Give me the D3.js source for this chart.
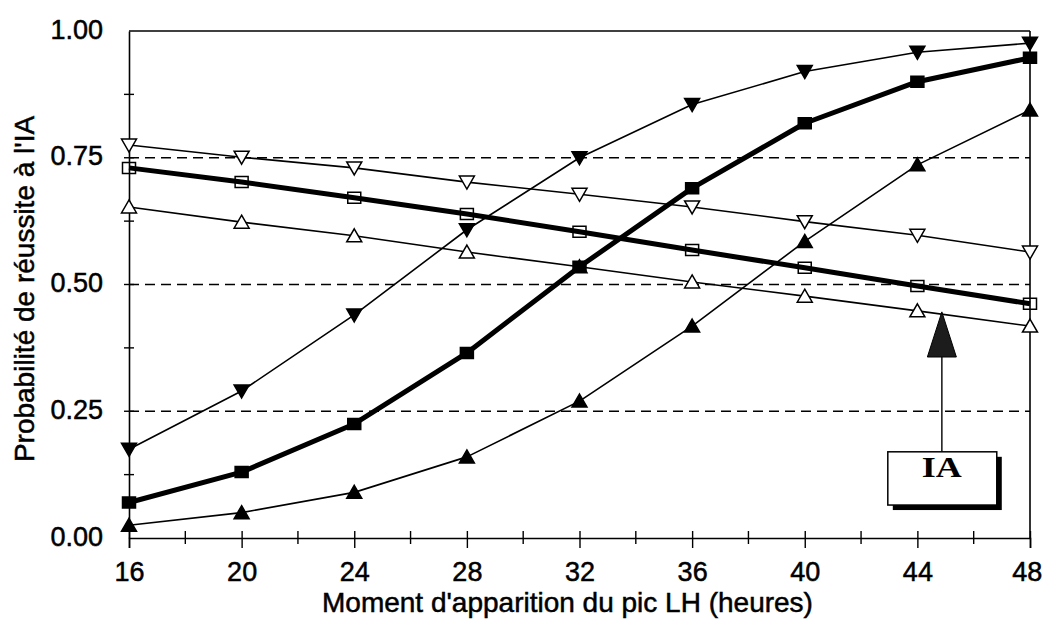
<!DOCTYPE html>
<html>
<head>
<meta charset="utf-8">
<script src="https://cdn.jsdelivr.net/npm/d3@7"></script>
<style>
  html, body { margin: 0; padding: 0; background: #fff; }
  svg { display: block; }
  text { font-family: "Liberation Sans", Arial, sans-serif; fill: #000; }
  .heavy { stroke: #000; stroke-width: 0.5px; }
</style>
</head>
<body>
<svg id="chart" width="1044" height="622"></svg>
<script>
// ---- data ----
const hours = [16, 20, 24, 28, 32, 36, 40, 44, 48];
const openDown   = [0.775, 0.751, 0.730, 0.702, 0.678, 0.653, 0.624, 0.597, 0.564];
const openSquare = [0.730, 0.702, 0.671, 0.639, 0.604, 0.568, 0.533, 0.497, 0.462];
const openUp     = [0.653, 0.623, 0.596, 0.564, 0.535, 0.505, 0.477, 0.448, 0.418];
const fillDown   = [0.175, 0.290, 0.440, 0.608, 0.750, 0.855, 0.920, 0.958, 0.976];
const fillSquare = [0.070, 0.130, 0.225, 0.365, 0.535, 0.690, 0.818, 0.900, 0.947];
const fillUp     = [0.025, 0.050, 0.090, 0.160, 0.270, 0.418, 0.585, 0.736, 0.844];
const yTickValues = [0, 0.25, 0.5, 0.75, 1];
const yMinorValues = [0.125, 0.375, 0.625, 0.875];
const xTickValues = [16, 20, 24, 28, 32, 36, 40, 44, 48];
const xMinorValues = [18, 22, 26, 30, 34, 38, 42, 46];
const gridValues = [0.25, 0.5, 0.75];
const xTitle = "Moment d'apparition du pic LH (heures)";
const yTitle = "Probabilité de réussite à l'IA";
const annotationLabel = "IA";

const series = [
  { values: openDown,   marker: "triDown", filled: false, thick: false },
  { values: openSquare, marker: "square",  filled: false, thick: true },
  { values: openUp,     marker: "triUp",   filled: false, thick: false },
  { values: fillDown,   marker: "triDown", filled: true,  thick: false },
  { values: fillSquare, marker: "square",  filled: true,  thick: true },
  { values: fillUp,     marker: "triUp",   filled: true,  thick: false }
];

// ---- layout ----
const svg = d3.select("#chart");
const x = d3.scaleLinear().domain([16, 48]).range([129, 1030]);
const y = d3.scaleLinear().domain([0, 1]).range([538, 31]);

// grid (dashed)
svg.append("g").selectAll("line").data(gridValues).join("line")
  .attr("x1", x(16)).attr("x2", x(48))
  .attr("y1", d => y(d)).attr("y2", d => y(d))
  .attr("stroke", "#000").attr("stroke-width", 1.6)
  .attr("stroke-dasharray", "10,6");

// frame: top and right
svg.append("line").attr("x1", x(16)).attr("x2", x(48)).attr("y1", y(1)).attr("y2", y(1))
  .attr("stroke", "#000").attr("stroke-width", 1.6);
svg.append("line").attr("x1", x(48)).attr("x2", x(48)).attr("y1", y(1)).attr("y2", y(0))
  .attr("stroke", "#000").attr("stroke-width", 1.6);

// y axis
const yAxis = svg.append("g").attr("transform", `translate(${x(16)},0)`)
  .call(d3.axisLeft(y).tickValues(yTickValues).tickFormat(d3.format(".2f")).tickSize(0).tickPadding(26));
yAxis.select(".domain").attr("stroke-width", 1.6);
yAxis.selectAll(".tick text").style("font-size", "27px").attr("dy", "0.26em").attr("class", "heavy");
svg.append("g").selectAll("line").data(yMinorValues.concat(yTickValues.slice(1, 4))).join("line")
  .attr("x1", x(16) - 5).attr("x2", x(16) + 5)
  .attr("y1", d => y(d)).attr("y2", d => y(d))
  .attr("stroke", "#000").attr("stroke-width", 1.4);

// x axis
const xAxis = svg.append("g").attr("transform", `translate(0,${y(0)})`)
  .call(d3.axisBottom(x).tickValues(xTickValues).tickFormat(d3.format("d")).tickSize(10).tickPadding(14));
xAxis.select(".domain").attr("stroke-width", 1.6);
xAxis.selectAll(".tick line").attr("y1", -7).attr("stroke-width", 1.4);
xAxis.selectAll(".tick text").style("font-size", "27px").attr("class", "heavy")
  .attr("dx", d => d === 48 ? "-0.12em" : 0);
svg.append("g").selectAll("line").data(xMinorValues).join("line")
  .attr("x1", d => x(d)).attr("x2", d => x(d))
  .attr("y1", y(0) - 7).attr("y2", y(0) + 6)
  .attr("stroke", "#000").attr("stroke-width", 1.4);

// titles
svg.append("text").attr("x", 322).attr("y", 612).attr("class", "heavy")
  .style("font-size", "28px").attr("text-anchor", "start").text(xTitle);
svg.append("text").attr("transform", "translate(34,289) rotate(-90)").attr("class", "heavy")
  .style("font-size", "28px").attr("text-anchor", "middle").text(yTitle);

// lines
const line = d3.line().x((d, i) => x(hours[i])).y(d => y(d));
svg.append("g").selectAll("path").data(series).join("path")
  .attr("d", s => line(s.values))
  .attr("fill", "none").attr("stroke", "#000")
  .attr("stroke-width", s => s.thick ? 5 : 1.6)
  .attr("stroke-linejoin", "round");

// markers
function markerPath(type) {
  if (type === "square") return "M-6.5,-5.5H6.5V5.5H-6.5Z";
  if (type === "triUp") return "M0,-7L7.5,6L-7.5,6Z";
  return "M0,7L7.5,-6L-7.5,-6Z";
}
series.forEach(s => {
  svg.append("g").selectAll("path").data(s.values).join("path")
    .attr("transform", (d, i) => `translate(${x(hours[i])},${y(d)})`)
    .attr("d", markerPath(s.marker))
    .attr("fill", s.filled ? "#000" : (s.marker === "square" ? "none" : "#fff"))
    .attr("stroke", "#000").attr("stroke-width", 1.5);
});

// IA annotation
const ax = x(44.87);
const boxL = x(42.95), boxR = x(46.82), boxT = y(0.17), boxB = y(0.065);
svg.append("line").attr("x1", ax).attr("x2", ax).attr("y1", y(0.36)).attr("y2", boxT)
  .attr("stroke", "#000").attr("stroke-width", 1.4);
svg.append("path")
  .attr("d", `M${ax},${y(0.446)}L${ax + 14.5},${y(0.357)}L${ax - 14.5},${y(0.357)}Z`)
  .attr("fill", "#1c1c1c").attr("stroke", "#000").attr("stroke-width", 1);
svg.append("rect").attr("x", boxL + 5).attr("y", boxT + 5)
  .attr("width", boxR - boxL).attr("height", boxB - boxT).attr("fill", "#000");
svg.append("rect").attr("x", boxL).attr("y", boxT)
  .attr("width", boxR - boxL).attr("height", boxB - boxT)
  .attr("fill", "#fff").attr("stroke", "#000").attr("stroke-width", 1.5);
svg.append("text").attr("x", ax).attr("y", boxT + 25)
  .attr("text-anchor", "middle")
  .style("font-family", "'Liberation Serif', 'Times New Roman', serif")
  .style("font-weight", "bold").style("font-size", "30px")
  .attr("textLength", 40).attr("lengthAdjust", "spacingAndGlyphs")
  .text(annotationLabel);
</script>
</body>
</html>
